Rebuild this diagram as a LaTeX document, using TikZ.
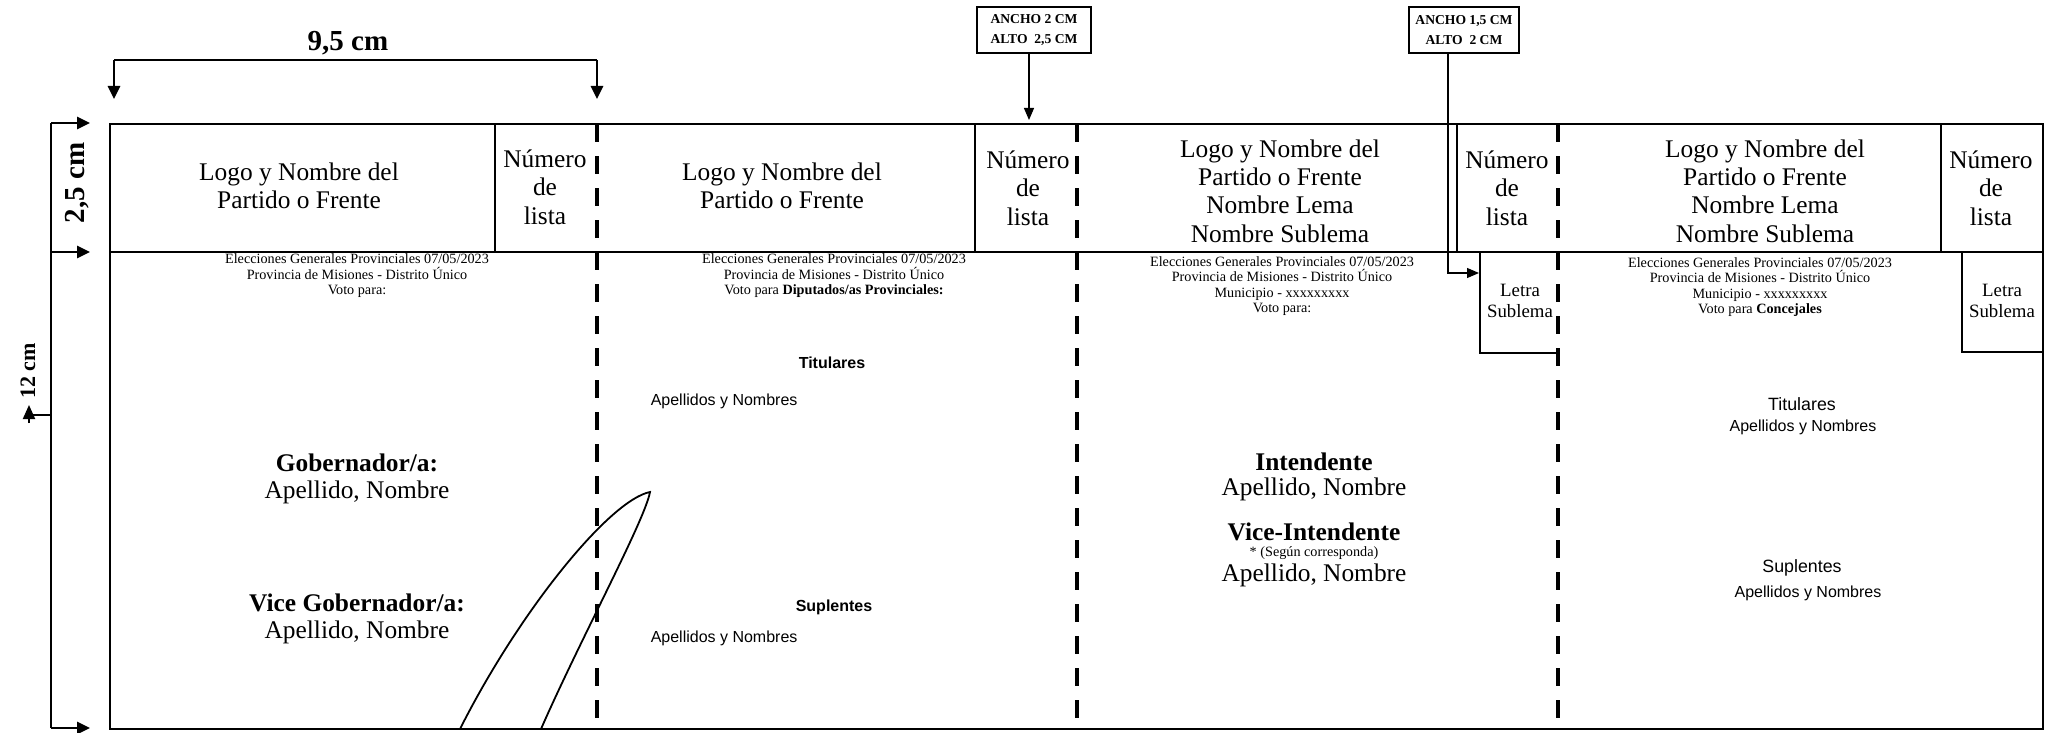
\documentclass[tikz,border=0pt]{standalone}
\usepackage{fontspec}
\setmainfont{Liberation Serif}
\setsansfont{Liberation Sans}
\usetikzlibrary{arrows.meta}

\tikzset{every picture/.style={line width=0.75pt}}
\tikzset{
	dimarrow/.style={line width=1.3pt,-{Triangle[length=6.5pt,width=6pt]}},
	cutline/.style={line width=2pt,dash pattern=on 9pt off 7pt},
	thin/.style={line width=0.6pt},
	bigtxt/.style={font=\fontsize{12.7}{14.2}\selectfont,align=center,inner sep=0pt},
	boldtxt/.style={font=\bfseries\fontsize{12.7}{14.2}\selectfont,align=center,inner sep=0pt},
	headtxt/.style={font=\fontsize{7.1}{7.75}\selectfont,align=center,inner sep=0pt},
	letratxt/.style={font=\fontsize{9.4}{10.5}\selectfont,align=center,inner sep=0pt},
	sanstxt/.style={font=\sffamily\fontsize{8}{9}\selectfont,inner sep=0pt},
	sansbig/.style={font=\sffamily\fontsize{8.9}{10}\selectfont,inner sep=0pt},
	dimtxt/.style={font=\bfseries\fontsize{14.5}{16}\selectfont,inner sep=0pt},
	notebox/.style={draw,thin,font=\bfseries\fontsize{6.8}{10}\selectfont,align=center,minimum width=57pt,minimum height=23pt,inner sep=0pt}
}

\begin{document}
\begin{tikzpicture}[x=0.5pt,y=0.5pt,yscale=-1]
	\useasboundingbox (0,0) rectangle (2050,733);

	%Shape: Rectangle
	\draw [line width=1pt] (110,124) rectangle (2043,729);
	%Straight Lines
	\draw [line width=1pt] (110,252) -- (2043,252);
	%Straight Lines
	\foreach \xc in {495,975,1457,1941}
		\draw [thin] (\xc,124) -- (\xc,252);
	%Straight Lines
	\foreach \xc in {597,1077,1558}
		\draw [cutline] (\xc,124) -- (\xc,729);
	%Letra Sublema boxes
	\draw [thin] (1480,252) -- (1480,353) -- (1558,353);
	\draw [thin] (1962,252) -- (1962,352) -- (2043,352);

	%Dimension 9,5 cm
	\coordinate (dimL) at (114,60);
	\coordinate (dimR) at (597,60);
	\draw [line width=1.3pt] (dimL) -- (dimR);
	\draw [dimarrow] (dimL) -- (114,99);
	\draw [dimarrow] (dimR) -- (597,99);
	\node [dimtxt] (anchoTot) at (348,43) {9,5 cm};

	%Dimension 2,5 cm and 12 cm
	\coordinate (vTop) at (51,123);
	\coordinate (vHead) at (51,252);
	\coordinate (vBot) at (51,728);
	\draw [line width=1.3pt] (vTop) -- (vBot);
	\draw [dimarrow] (vTop) -- (90,123);
	\draw [dimarrow] (vHead) -- (90,252);
	\draw [dimarrow] (vBot) -- (90,728);
	\node [dimtxt,rotate=90] (altoHead) at (77,183) {2,5 cm};
	\node [dimtxt,font=\bfseries\fontsize{11}{12}\selectfont,rotate=90] (altoTot) at (28,371) {12 cm};
	\coordinate (stub) at (29,415);
	\draw [line width=1pt] (51,415) -- (stub);
	\draw [line width=1pt,-{Triangle[length=7pt,width=6pt]}] (29,423) -- (29,405);

	%Notes
	\node [notebox] (anchoA) at (1034,30) {ANCHO 2 CM\\ALTO\ \ 2,5 CM};
	\node [notebox,minimum width=55pt] (anchoB) at (1464,30) {ANCHO 1,5 CM\\ALTO\ \ 2 CM};
	\coordinate (tipA) at (1029,120);
	\coordinate (bendB) at (1448,273);
	\coordinate (tipB) at (1479,273);
	\draw [thin,-{Triangle[length=6pt,width=5pt]}] (anchoA.south -| tipA) -- (tipA);
	\draw [thin,-{Triangle[length=6pt,width=5pt]}] (anchoB.south -| bendB) -- (bendB) -- (tipB);

	% Text Node
	\node [bigtxt] (logoA) at (299,186) {Logo y Nombre del\\Partido o Frente};
	\node [bigtxt] (numA) at (545,187) {Número\\de\\lista};
	\node [bigtxt] (logoB) at (782,186) {Logo y Nombre del\\Partido o Frente};
	\node [bigtxt] (numB) at (1028,188) {Número\\de\\lista};
	\node [bigtxt] (logoC) at (1280,191) {Logo y Nombre del\\Partido o Frente\\Nombre Lema\\Nombre Sublema};
	\node [bigtxt] (numC) at (1507,188) {Número\\de\\lista};
	\node [bigtxt] (logoD) at (1765,191) {Logo y Nombre del\\Partido o Frente\\Nombre Lema\\Nombre Sublema};
	\node [bigtxt] (numD) at (1991,188) {Número\\de\\lista};

	% Text Node
	\node [headtxt] (headA) at (357,276) {Elecciones Generales Provinciales 07/05/2023\\Provincia de Misiones - Distrito Único\\Voto para:};
	\node [headtxt] (headB) at (834,276) {Elecciones Generales Provinciales 07/05/2023\\Provincia de Misiones - Distrito Único\\Voto para \textbf{Diputados/as Provinciales:}};
	\node [headtxt] (headC) at (1282,286) {Elecciones Generales Provinciales 07/05/2023\\Provincia de Misiones - Distrito Único\\Municipio - xxxxxxxxx\\Voto para:};
	\node [headtxt] (headD) at (1760,287) {Elecciones Generales Provinciales 07/05/2023\\Provincia de Misiones - Distrito Único\\Municipio - xxxxxxxxx\\Voto para \textbf{Concejales}};
	\node [letratxt] (letraC) at (1520,301) {Letra\\Sublema};
	\node [letratxt] (letraD) at (2002,301) {Letra\\Sublema};

	% Text Node
	\node [boldtxt] (gob) at (357,463) {Gobernador/a:};
	\node [bigtxt] (gobNom) at (357,492) {Apellido, Nombre};
	\node [boldtxt] (vice) at (357,603) {Vice Gobernador/a:};
	\node [bigtxt] (viceNom) at (357,632) {Apellido, Nombre};

	% Text Node
	\node [sanstxt,font=\sffamily\bfseries\fontsize{8}{9}\selectfont] (titB) at (832,363) {Titulares};
	\node [sanstxt,anchor=west] (titBNom) at (650,401) {Apellidos y Nombres};
	\node [sanstxt,font=\sffamily\bfseries\fontsize{8}{9}\selectfont] (supB) at (834,607) {Suplentes};
	\node [sanstxt,anchor=west] (supBNom) at (650,638) {Apellidos y Nombres};

	% Text Node
	\node [boldtxt] (inte) at (1314,462) {Intendente};
	\node [bigtxt] (inteNom) at (1314,489) {Apellido, Nombre};
	\node [boldtxt] (viceInte) at (1314,532) {Vice-Intendente};
	\node [headtxt] (segun) at (1314,553) {* (Según corresponda)};
	\node [bigtxt] (viceInteNom) at (1314,575) {Apellido, Nombre};

	% Text Node
	\node [sansbig] (titD) at (1802,404) {Titulares};
	\node [sanstxt] (titDNom) at (1803,427) {Apellidos y Nombres};
	\node [sansbig] (supD) at (1802,568) {Suplentes};
	\node [sanstxt] (supDNom) at (1808,593) {Apellidos y Nombres};

	%Shape: Curve
	\draw [line width=0.9pt] (460,729) .. controls (520,610) and (610,500) .. (650,492) .. controls (645,520) and (580,640) .. (541,729);

\end{tikzpicture}
\end{document}
